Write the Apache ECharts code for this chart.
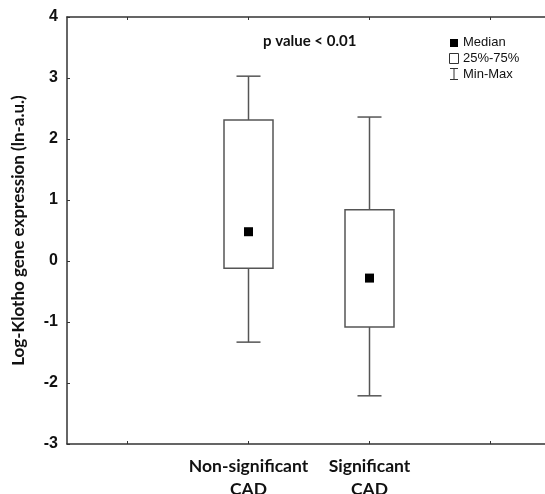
<!DOCTYPE html>
<html>
<head>
<meta charset="utf-8">
<script src="https://cdn.jsdelivr.net/npm/echarts@6/dist/echarts.min.js"></script>
<style>
html, body { margin: 0; padding: 0; background: #fff; }
#main { width: 545px; height: 494px; }
</style>
</head>
<body>
<div id="main"></div>
<script>
// data
var categories = ['', 'Non-significant\nCAD', 'Significant\nCAD', ''];
var groupIndex = [1, 2];
var minVals = [-1.33, -2.21];
var q1Vals = [-0.12, -1.08];
var medianVals = [0.48, -0.28];
var q3Vals = [2.31, 0.84];
var maxVals = [3.03, 2.36];
var yTicks = [-3, -2, -1, 0, 1, 2, 3, 4];

var boxData = [];
for (var i = 0; i < groupIndex.length; i++) {
	boxData.push([groupIndex[i], minVals[i], q1Vals[i], medianVals[i], q3Vals[i], maxVals[i]]);
}

var lineColor = '#555';
var frameColor = '#333';

function renderBox(params, api) {
	var x = api.value(0);
	var pMin = api.coord([x, api.value(1)]);
	var pQ1 = api.coord([x, api.value(2)]);
	var pMed = api.coord([x, api.value(3)]);
	var pQ3 = api.coord([x, api.value(4)]);
	var pMax = api.coord([x, api.value(5)]);
	var halfBox = 24.5;
	var halfCap = 12;
	var style = { stroke: lineColor, lineWidth: 1.5, fill: null };
	return {
		type: 'group',
		children: [
			{ type: 'line', shape: { x1: pMax[0], y1: pMax[1], x2: pQ3[0], y2: pQ3[1] }, style: style },
			{ type: 'line', shape: { x1: pMax[0] - halfCap, y1: pMax[1], x2: pMax[0] + halfCap, y2: pMax[1] }, style: style },
			{ type: 'line', shape: { x1: pMin[0], y1: pMin[1], x2: pQ1[0], y2: pQ1[1] }, style: style },
			{ type: 'line', shape: { x1: pMin[0] - halfCap, y1: pMin[1], x2: pMin[0] + halfCap, y2: pMin[1] }, style: style },
			{ type: 'rect', shape: { x: pQ3[0] - halfBox, y: pQ3[1], width: halfBox * 2, height: pQ1[1] - pQ3[1] },
				style: { stroke: lineColor, lineWidth: 1.5, fill: '#fff' } },
			{ type: 'rect', shape: { x: pMed[0] - 4.5, y: pMed[1] - 4.5, width: 9, height: 9 },
				style: { fill: '#000' } }
		]
	};
}

var myChart = echarts.init(document.getElementById('main'));

var option = {
	animation: false,
	backgroundColor: '#fff',
	grid: { left: 67, top: 17, width: 484, height: 427, outerBoundsMode: 'none', containLabel: false },
	xAxis: [
	{
		type: 'category',
		data: categories,
		position: 'bottom',
		boundaryGap: true,
		axisLine: { onZero: false, lineStyle: { color: frameColor, width: 1.5 } },
		axisTick: { show: true, inside: true, alignWithLabel: true, length: 3, lineStyle: { color: frameColor } },
		axisLabel: {
			margin: 11,
			color: '#111',
			fontFamily: 'Lato',
			fontWeight: 'bold',
			fontSize: 17.5,
			lineHeight: 23,
			interval: 0
		},
		splitLine: { show: false }
	},
	{
		type: 'category',
		data: categories,
		position: 'top',
		boundaryGap: true,
		axisLine: { onZero: false, lineStyle: { color: frameColor, width: 1.5 } },
		axisTick: { show: true, inside: true, alignWithLabel: true, length: 3, lineStyle: { color: frameColor } },
		axisLabel: { show: false },
		splitLine: { show: false }
	} ],
	yAxis: [
	{
		type: 'value',
		min: -3,
		max: 4,
		interval: 1,
		name: 'Log-Klotho gene expression (ln-a.u.)',
		nameLocation: 'middle',
		nameGap: 40,
		nameTextStyle: { color: '#111', fontFamily: 'Lato', fontWeight: 'bold', fontSize: 17 },
		axisLine: { show: true, onZero: false, lineStyle: { color: frameColor, width: 1.5 } },
		axisTick: { show: true, inside: true, length: 3, lineStyle: { color: frameColor } },
		axisLabel: {
			margin: 9,
			color: '#111',
			fontFamily: 'Liberation Sans',
			fontWeight: 'bold',
			fontSize: 16,
			formatter: function (v) { return yTicks.indexOf(v) >= 0 ? String(v) : ''; }
		},
		splitLine: { show: false }
	} ],
	series: [
	{
		type: 'custom',
		xAxisIndex: 0,
		yAxisIndex: 0,
		renderItem: renderBox,
		encode: { x: 0, y: [1, 2, 3, 4, 5] },
		data: boxData
	} ],
	graphic: [
	{
		type: 'text', left: 263, top: 34,
		style: { text: 'p value < 0.01', fill: '#111', font: 'bold 15px Lato' }
	},
	{ type: 'rect', shape: { x: 450, y: 39, width: 8, height: 8 }, style: { fill: '#000' } },
	{ type: 'text', left: 463, top: 36, style: { text: 'Median', fill: '#111', font: '13px "Liberation Sans"' } },
	{ type: 'rect', shape: { x: 449.5, y: 53.5, width: 9, height: 10 }, style: { fill: '#fff', stroke: '#333', lineWidth: 1 } },
	{ type: 'text', left: 463, top: 52, style: { text: '25%-75%', fill: '#111', font: '13px "Liberation Sans"' } },
	{ type: 'polyline', shape: { points: [[450, 68.5], [458, 68.5]] }, style: { stroke: '#333', lineWidth: 1 } },
	{ type: 'polyline', shape: { points: [[454, 68.5], [454, 79.5]] }, style: { stroke: '#333', lineWidth: 1 } },
	{ type: 'polyline', shape: { points: [[450, 79.5], [458, 79.5]] }, style: { stroke: '#333', lineWidth: 1 } },
	{ type: 'text', left: 463, top: 68, style: { text: 'Min-Max', fill: '#111', font: '13px "Liberation Sans"' } }
	]
};

myChart.setOption(option);
</script>
</body>
</html>
